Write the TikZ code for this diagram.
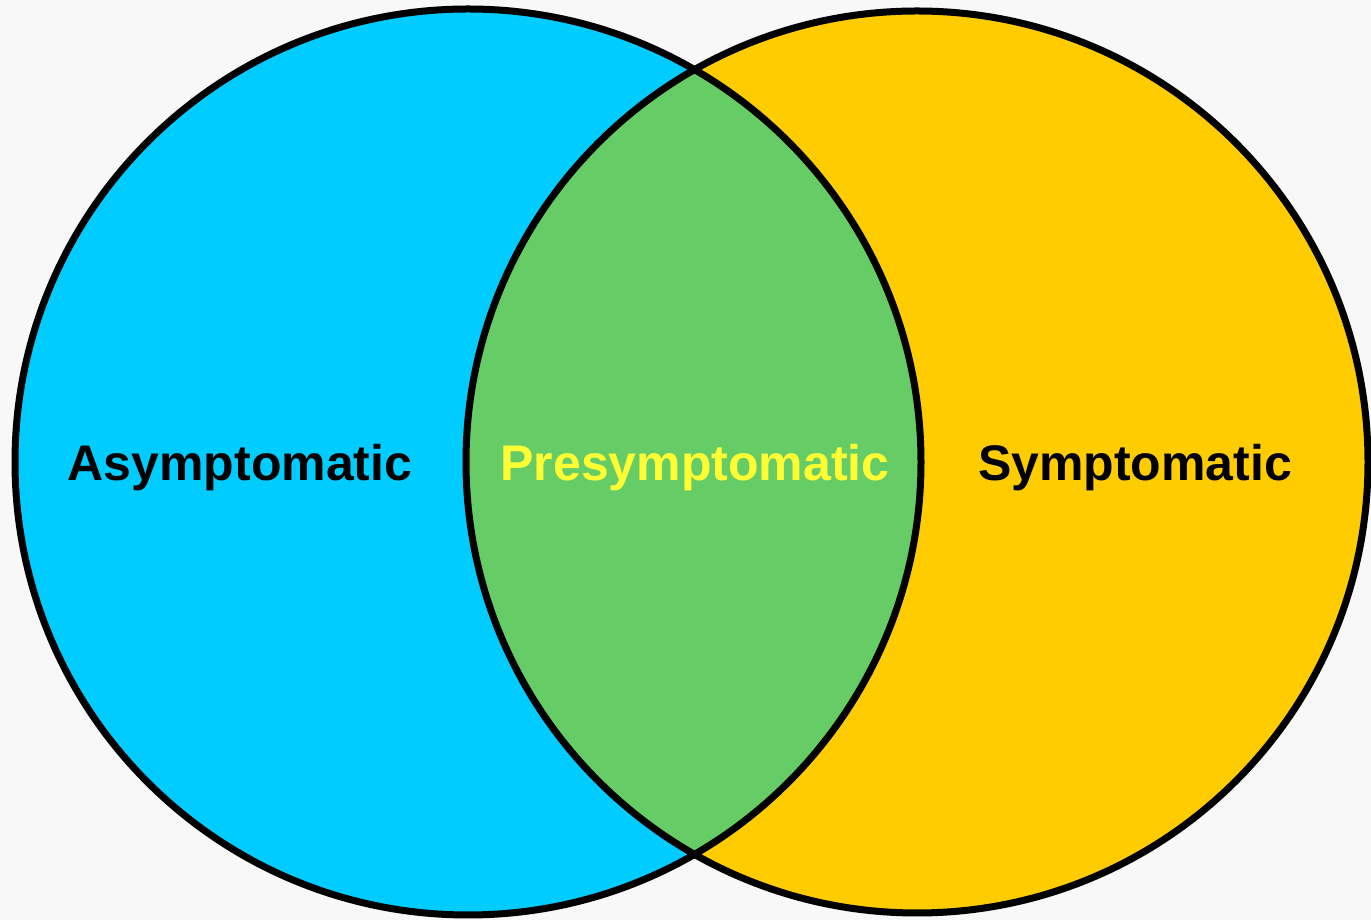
\documentclass[tikz,border=0pt]{standalone}
\usepackage{fontspec}
\setmainfont{Liberation Sans}
\definecolor{bgc}{HTML}{F8F8F8}
\definecolor{bluec}{HTML}{00CCFF}
\definecolor{yellowc}{HTML}{FFCC00}
\definecolor{greenc}{HTML}{66CC66}
\definecolor{textyellow}{HTML}{FFFF33}
\begin{document}
\begin{tikzpicture}[x=1pt,y=1pt,
  outline/.style={draw=black,line width=7pt},
  lbl/.style={anchor=base,font=\fontsize{50}{58}\selectfont\bfseries,inner sep=0pt}]
\fill[bgc] (0,0) rectangle (1371,920);
\useasboundingbox (0,0) rectangle (1371,920);
\coordinate (cl) at (468,458);
\coordinate (cr) at (917,458);
\fill[bluec] (cl) circle (453);
\fill[yellowc] (cr) circle (451);
\begin{scope}
  \clip (cl) circle (453);
  \fill[greenc] (cr) circle (451);
\end{scope}
\draw[outline] (cl) circle (453);
\draw[outline] (cr) circle (451);
\node[lbl,text=black] (asym) at (240,439) {Asymptomatic};
\node[lbl,text=textyellow] (pre) at (695,439) {Presymptomatic};
\node[lbl,text=black] (sym) at (1135,439) {Symptomatic};
\end{tikzpicture}
\end{document}
